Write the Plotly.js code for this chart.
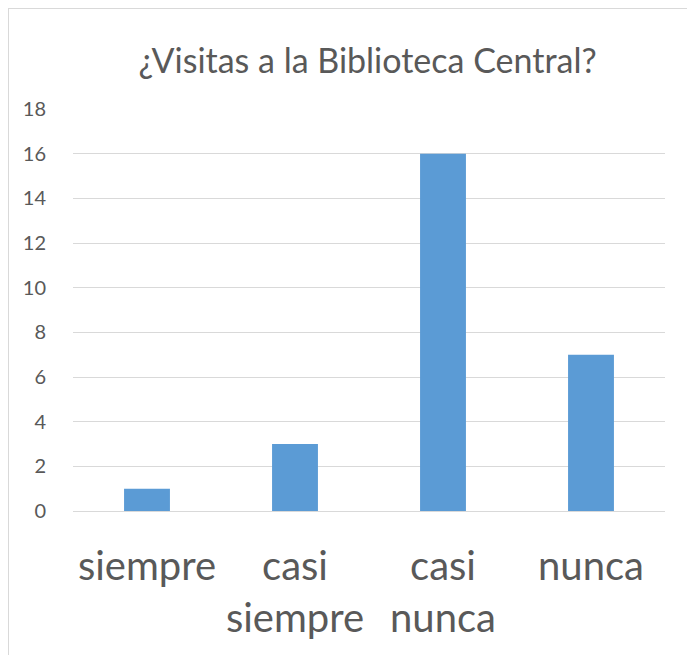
<!DOCTYPE html>
<html><head><meta charset="utf-8">
<script src="https://cdn.plot.ly/plotly-3.0.1.min.js"></script>
<style>
html,body{margin:0;padding:0;background:#fff;overflow:hidden;}
#frame{position:absolute;left:8px;top:8px;width:700px;height:700px;border:1px solid #d9d9d9;box-sizing:border-box;}
#chart{position:absolute;left:0;top:0;width:687px;height:655px;}
</style></head>
<body>
<div id="frame"></div>
<div id="chart"></div>
<script>
const categories = ["siempre", "casi<br>siempre", "casi<br>nunca", "nunca"];
const values = [1, 3, 16, 7];
const tickVals = [0, 2, 4, 6, 8, 10, 12, 14, 16, 18];

const fontFam = "Lato, 'Open Sans', sans-serif";
Plotly.newPlot('chart', [{
  type: 'bar',
  x: categories,
  y: values,
  marker: {color: '#5B9BD5'},
  hoverinfo: 'x+y'
}], {
  width: 687, height: 655,
  paper_bgcolor: 'rgba(0,0,0,0)', plot_bgcolor: 'rgba(0,0,0,0)',
  margin: {l: 73, r: 22, t: 109, b: 144},
  bargap: 0.69,
  showlegend: false,
  title: {text: '¿Visitas a la Biblioteca Central?', x: 0.535, xanchor: 'center', y: 0.907, yanchor: 'middle',
          font: {family: fontFam, size: 34, color: '#595959'}},
  xaxis: {
    type: 'category', tickfont: {family: fontFam, size: 40, color: '#595959'},
    showgrid: false, zeroline: false, showline: false,
    ticks: 'outside', ticklen: 20, tickcolor: 'rgba(0,0,0,0)', automargin: false
  },
  yaxis: {
    range: [0, 18], tickvals: tickVals, ticktext: tickVals.map(String),
    tickfont: {family: fontFam, size: 20, color: '#595959'},
    showgrid: true, gridcolor: '#d9d9d9', gridwidth: 1,
    zeroline: true, zerolinecolor: '#d9d9d9', zerolinewidth: 1,
    showline: false, ticks: 'outside', ticklen: 22, tickcolor: 'rgba(0,0,0,0)', automargin: false
  }
}, {displayModeBar: false, staticPlot: false});
</script>
</body></html>
